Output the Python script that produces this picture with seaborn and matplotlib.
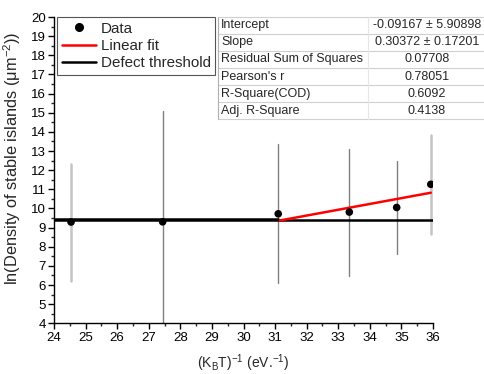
import matplotlib
matplotlib.use("Agg")
import matplotlib.pyplot as plt
import seaborn as sns
import pandas as pd
from matplotlib.lines import Line2D

# ---------------- data ----------------
x_vals = [24.54, 27.44, 31.10, 33.35, 34.85, 35.93]
y_vals = [9.29, 9.30, 9.72, 9.81, 10.05, 11.26]
err_lo = [6.23, 3.50, 6.09, 6.49, 7.63, 8.68]
err_hi = [12.34, 15.08, 13.39, 13.11, 12.48, 13.82]
err_light = [True, False, False, False, False, True]

fit_x = [31.15, 35.93]
fit_y = [9.37, 10.82]

thr_x = [24.0, 36.0]
thr_y = [9.37, 9.37]
thr2_x = [24.0, 31.1]
thr2_y = [9.45, 9.45]

table_names = ["Intercept", "Slope", "Residual Sum of Squares",
               "Pearson's r", "R-Square(COD)", "Adj. R-Square"]
table_values = ["-0.09167 \u00b1 5.90898", "0.30372 \u00b1 0.17201", "0.07708",
                "0.78051", "0.6092", "0.4138"]

x_ticks = list(range(24, 37))
y_ticks = list(range(4, 21))

# ---------------- plot ----------------
sns.set_theme(style="ticks")
plt.rcParams['font.family'] = ['Liberation Sans', 'DejaVu Sans']

W, H = 484, 374
fig = plt.figure(figsize=(W / 100, H / 100), dpi=100)
ax = fig.add_axes([54 / W, 1 - 323.3 / H, (433 - 54) / W, (323.3 - 17) / H])

df = pd.DataFrame({"x": x_vals, "y": y_vals, "lo": err_lo, "hi": err_hi, "light": err_light})

for _, r in df.iterrows():
    if r["light"]:
        ax.plot([r["x"], r["x"]], [r["lo"], r["hi"]], color="#c4c4c4", lw=1.8, zorder=1)
    else:
        ax.plot([r["x"], r["x"]], [r["lo"], r["hi"]], color="#808080", lw=1.0, zorder=1)

sns.lineplot(x=thr_x, y=thr_y, ax=ax, color="black", lw=1.8, zorder=3)
sns.lineplot(x=thr2_x, y=thr2_y, ax=ax, color="black", lw=1.8, zorder=3)
sns.lineplot(x=fit_x, y=fit_y, ax=ax, color="#ff0000", lw=1.8, zorder=3)
sns.scatterplot(data=df, x="x", y="y", ax=ax, color="black", s=30, edgecolor="none", zorder=4)

ax.set_xlim(24, 36)
ax.set_ylim(4, 20)
ax.set_xticks(x_ticks)
ax.set_yticks(y_ticks)
ax.set_xticks([t + 0.5 for t in x_ticks[:-1]], minor=True)
ax.set_yticks([t + 0.5 for t in y_ticks[:-1]], minor=True)
ax.tick_params(axis="both", which="major", direction="out", length=4, width=1, labelsize=9.5,
               colors="black", pad=2)
ax.tick_params(axis="both", which="minor", direction="out", length=2, width=1)
for s in ["top", "right"]:
    ax.spines[s].set_visible(False)
for s in ["left", "bottom"]:
    ax.spines[s].set_linewidth(1)
    ax.spines[s].set_color("black")

ax.set_xlabel(r"(K$_\mathregular{B}$T)$^\mathregular{-1}$ (eV.$^\mathregular{-1}$)", fontsize=10)
ax.xaxis.set_label_coords(0.5, (323.3 - 352) / 306.3)
ax.set_ylabel("ln(Density of stable islands (\u03bcm$^\\mathregular{-2}$))", fontsize=11.8)
ax.yaxis.set_label_coords((23 - 54) / 379, 0.54)

handles = [
    Line2D([], [], marker="o", color="black", ls="none", markersize=5.5),
    Line2D([], [], color="#ff0000", lw=1.8),
    Line2D([], [], color="black", lw=1.8),
]
leg = fig.legend(handles, ["Data", "Linear fit", "Defect threshold"],
                 loc="upper left", bbox_to_anchor=(57 / W, 1 - 17 / H),
                 fontsize=10.9, frameon=True, fancybox=False, framealpha=1,
                 edgecolor="#555555", handlelength=2.3, handletextpad=0.3,
                 borderpad=0.3, labelspacing=0.22, borderaxespad=0)
leg.get_frame().set_linewidth(0.8)

# ---------------- stats table ----------------
tx0, tx1, tcol = 218, 484, 368
ty0, rh = 16.7, 17.1
n = len(table_names)

def fx(px):
    return px / W

def fy(py):
    return 1 - py / H

for i in range(n + 1):
    yy = ty0 + i * rh
    fig.add_artist(Line2D([fx(tx0), fx(tx1)], [fy(yy), fy(yy)], color="#d0d0d0", lw=0.8))
fig.add_artist(Line2D([fx(tx0), fx(tx0)], [fy(ty0), fy(ty0 + n * rh)], color="#b0b0b0", lw=0.8))
fig.add_artist(Line2D([fx(tcol), fx(tcol)], [fy(ty0), fy(ty0 + n * rh)], color="#e6e6e6", lw=0.8))

for i, (nm, vl) in enumerate(zip(table_names, table_values)):
    yc = ty0 + (i + 0.5) * rh
    fig.text(fx(tx0 + 3), fy(yc), nm, fontsize=9, ha="left", va="center")
    fig.text(fx(427), fy(yc), vl, fontsize=9, ha="center", va="center")

fig.savefig("out.png", dpi=100)
